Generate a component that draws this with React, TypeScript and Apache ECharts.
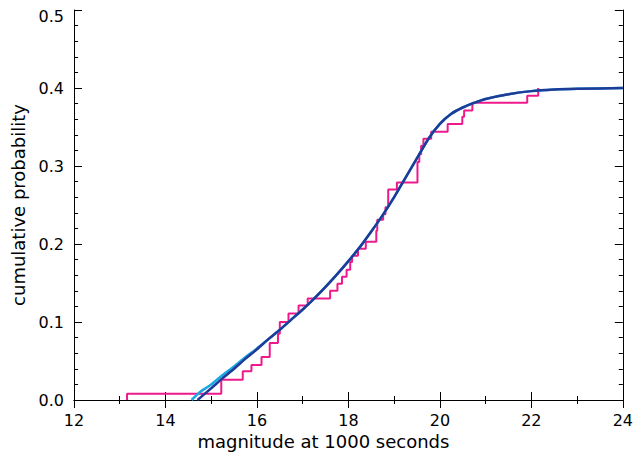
import React, { useEffect, useRef } from "react";
import * as echarts from "echarts";

// Empirical step function: magnitude at which each step occurs, and cumulative level after it
const stepMag = [13.16, 13.16, 15.22, 15.69, 15.88, 16.10, 16.28, 16.46, 16.50, 16.69, 16.91, 17.11, 17.60, 17.76, 17.86, 17.96, 18.04, 18.08, 18.21, 18.38, 18.61, 18.63, 18.76, 18.81, 18.87, 19.06, 19.51, 19.55, 19.59, 19.64, 19.81, 20.17, 20.49, 20.53, 20.71, 21.91, 22.15];
const stepProb = [0.0, 0.008, 0.026, 0.037, 0.045, 0.055, 0.073, 0.085, 0.100, 0.111, 0.121, 0.130, 0.140, 0.149, 0.158, 0.167, 0.177, 0.185, 0.194, 0.203, 0.217, 0.231, 0.238, 0.247, 0.270, 0.279, 0.305, 0.315, 0.326, 0.335, 0.344, 0.354, 0.363, 0.371, 0.381, 0.390, 0.400];

// Model curve (dark blue)
const modelMag = [14.7, 15.0, 15.25, 15.5, 15.75, 16.0, 16.25, 16.5, 16.75, 17.0, 17.25, 17.5, 17.75, 18.0, 18.25, 18.5, 18.75, 19.0, 19.25, 19.5, 19.75, 20.0, 20.25, 20.5, 20.75, 21.0, 21.5, 22.0, 22.5, 23.0, 24.0];
const modelProb = [0.0, 0.015, 0.028, 0.040, 0.053, 0.065, 0.078, 0.090, 0.103, 0.116, 0.130, 0.145, 0.161, 0.178, 0.196, 0.216, 0.237, 0.260, 0.285, 0.310, 0.335, 0.354, 0.367, 0.375, 0.381, 0.386, 0.392, 0.396, 0.398, 0.399, 0.400];

// Alternative curve (light blue)
const altMag = [14.57, 14.75, 15.0, 15.25, 15.5, 15.75, 16.0, 16.25, 16.5, 16.75, 17.0, 17.25, 17.5, 17.75, 18.0, 18.25, 18.5, 18.75, 19.0, 19.25, 19.5, 19.75, 20.0, 20.25, 20.5, 20.75, 21.0, 21.5, 22.0, 22.5, 23.0, 24.0];
const altProb = [0.0, 0.010, 0.020, 0.032, 0.043, 0.055, 0.066, 0.078, 0.090, 0.103, 0.116, 0.130, 0.145, 0.161, 0.178, 0.196, 0.216, 0.237, 0.260, 0.285, 0.310, 0.335, 0.354, 0.367, 0.375, 0.381, 0.386, 0.392, 0.396, 0.398, 0.399, 0.400];

const xTicks = [12, 14, 16, 18, 20, 22, 24];
const yTicks = [0, 0.1, 0.2, 0.3, 0.4, 0.5];

const FONT = "DejaVu Sans";

export default function App() {
  const ref = useRef<HTMLDivElement>(null);
  useEffect(() => {
    if (!ref.current) return;
    const chart = echarts.init(ref.current, undefined, { renderer: "svg" });
    const zip = (a: number[], b: number[]) => a.map((v, i) => [v, b[i]]);
    const axisLineStyle = { lineStyle: { color: "#000", width: 1 } };
    chart.setOption({
      animation: false,
      backgroundColor: "#fff",
      grid: { left: 74, right: 12, top: 10, bottom: 57, containLabel: false },
      xAxis: [
        {
          type: "value",
          min: xTicks[0],
          max: xTicks[xTicks.length - 1],
          interval: 2,
          name: "magnitude at 1000 seconds",
          nameLocation: "middle",
          nameGap: 31,
          nameTextStyle: {
            color: "#000",
            fontFamily: FONT,
            fontSize: 18,
            padding: [0, 50, 0, 0],
          },
          axisLine: axisLineStyle,
          axisTick: { inside: true, length: 8, lineStyle: { color: "#000" } },
          minorTick: { show: true, splitNumber: 2, length: 4, lineStyle: { color: "#000" } },
          axisLabel: { color: "#000", fontFamily: FONT, fontSize: 16, margin: 12 },
          splitLine: { show: false },
        },
        {
          type: "value",
          position: "top",
          min: xTicks[0],
          max: xTicks[xTicks.length - 1],
          interval: 2,
          axisLine: { show: true, ...axisLineStyle },
          axisTick: { inside: true, length: 8, lineStyle: { color: "#000" } },
          minorTick: { show: true, splitNumber: 2, length: 4, lineStyle: { color: "#000" } },
          axisLabel: { show: false },
          splitLine: { show: false },
        },
      ],
      yAxis: [
        {
          type: "value",
          min: yTicks[0],
          max: yTicks[yTicks.length - 1],
          interval: 0.1,
          name: "cumulative probability",
          nameLocation: "middle",
          nameGap: 46,
          nameTextStyle: { color: "#000", fontFamily: FONT, fontSize: 18 },
          axisLine: { show: true, ...axisLineStyle },
          axisTick: { show: true, inside: true, length: 8, lineStyle: { color: "#000" } },
          minorTick: { show: true, splitNumber: 5, length: 4, lineStyle: { color: "#000" } },
          axisLabel: {
            color: "#000",
            fontFamily: FONT,
            fontSize: 16,
            margin: 10,
            lineHeight: 12,
            verticalAlignMaxLabel: "top",
            formatter: (v: number) => v.toFixed(1),
          },
          splitLine: { show: false },
        },
        {
          type: "value",
          position: "right",
          min: yTicks[0],
          max: yTicks[yTicks.length - 1],
          interval: 0.1,
          axisLine: { show: true, ...axisLineStyle },
          axisTick: { show: true, inside: true, length: 8, lineStyle: { color: "#000" } },
          minorTick: { show: true, splitNumber: 5, length: 4, lineStyle: { color: "#000" } },
          axisLabel: { show: false },
          splitLine: { show: false },
        },
      ],
      series: [
        {
          type: "line",
          data: zip(stepMag, stepProb),
          step: "end",
          symbol: "none",
          lineStyle: { color: "#ee1a8c", width: 2 },
          z: 2,
        },
        {
          type: "line",
          data: zip(altMag, altProb),
          smooth: 0.2,
          symbol: "none",
          lineStyle: { color: "#1ba8e2", width: 2.5 },
          z: 3,
        },
        {
          type: "line",
          data: zip(modelMag, modelProb),
          smooth: 0.2,
          symbol: "none",
          lineStyle: { color: "#1f3b98", width: 2.5 },
          z: 4,
        },
      ],
    });
    return () => chart.dispose();
  }, []);
  return (
    <div
      ref={ref}
      style={{ position: "absolute", left: 0, top: 0, width: 636, height: 457 }}
    />
  );
}
